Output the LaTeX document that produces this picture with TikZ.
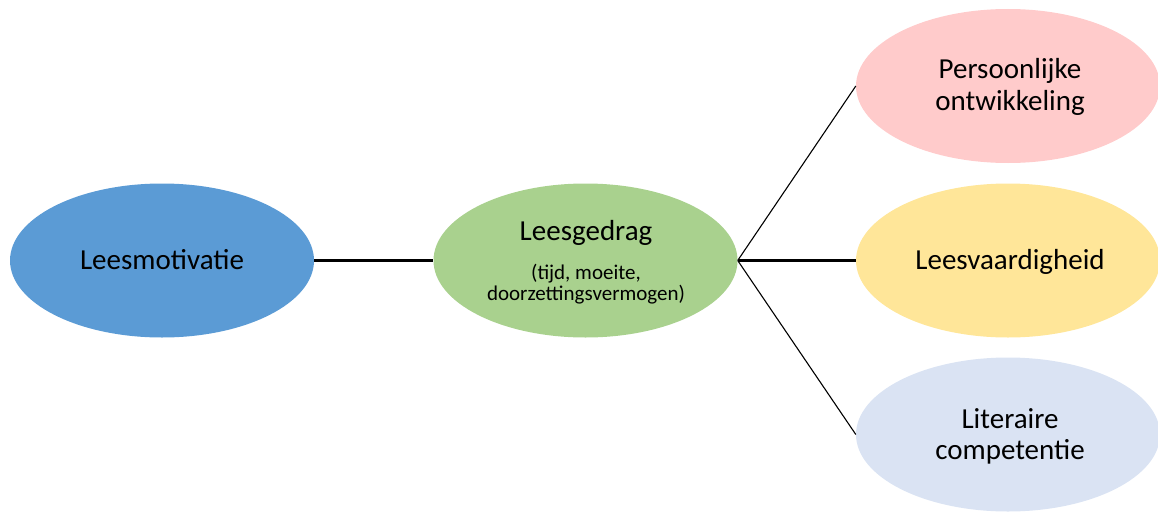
\documentclass[tikz,border=0pt]{standalone}
\usepackage{fontspec}
\setmainfont{Carlito}
\usetikzlibrary{shapes.geometric}
\definecolor{cblue}{HTML}{5B9BD5}
\definecolor{cgreen}{HTML}{A9D18E}
\definecolor{cpink}{HTML}{FFCBCB}
\definecolor{cyellow}{HTML}{FFE699}
\definecolor{clblue}{HTML}{DAE3F3}
\begin{document}
\begin{tikzpicture}[x=1pt,y=-1pt,
  blob/.style={ellipse, draw=none, inner sep=0pt, minimum width=304pt, minimum height=154pt},
  big/.style={anchor=base, inner sep=0pt, font=\fontsize{29}{32}\selectfont},
  small/.style={anchor=base, inner sep=0pt, font=\fontsize{21}{22}\selectfont},
  thick link/.style={line width=2.4pt},
  thin link/.style={line width=1.1pt}]
\useasboundingbox (0,0) rectangle (1158,511);

% ellipses
\node[blob, fill=cblue]   (mot) at (162,260.5) {};
\node[blob, fill=cgreen]  (ged) at (585.5,260.5) {};
\node[blob, fill=cpink]   (per) at (1008,86) {};
\node[blob, fill=cyellow] (vaa) at (1008,260.5) {};
\node[blob, fill=clblue]  (lit) at (1008,434.5) {};

% connectors
\draw[thick link] (mot.east) -- (ged.west);
\draw[thick link] (ged.east) -- (vaa.west);
\draw[thin link]  (ged.east) -- (per.west);
\draw[thin link]  (ged.east) -- (lit.west);

% labels
\node[big] (tmot) at (162,269) {Leesmotivatie};
\node[big] (tged) at (586,240) {Leesgedrag};
\node[small] (tged2) at (586,279.5) {(tijd, moeite,};
\node[small] (tged3) at (586,300.7) {doorzettingsvermogen)};
\node[big] (tper1) at (1010,78.3) {Persoonlijke};
\node[big] (tper2) at (1010,110) {ontwikkeling};
\node[big] (tvaa) at (1010,269.3) {Leesvaardigheid};
\node[big] (tlit1) at (1010,428.3) {Literaire};
\node[big] (tlit2) at (1010,459.3) {competentie};
\end{tikzpicture}
\end{document}
